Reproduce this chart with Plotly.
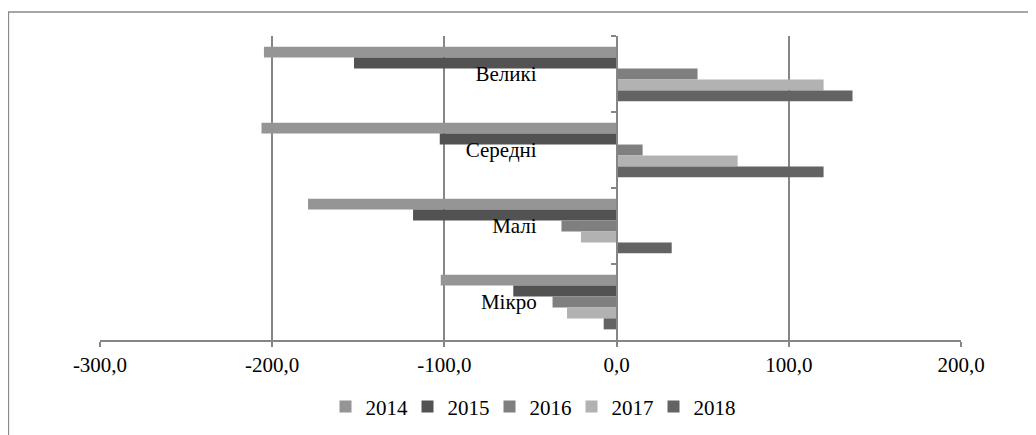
import plotly.graph_objects as go

# categories top to bottom
categories = ["Великі", "Середні", "Малі", "Мікро"]
years = ["2014", "2015", "2016", "2017", "2018"]

v2014 = [-204.8, -206.2, -179.2, -102.1]
v2015 = [-152.5, -102.7, -118.2, -60.0]
v2016 = [47.0, 15.1, -32.0, -37.2]
v2017 = [120.2, 70.3, -20.7, -28.8]
v2018 = [137.0, 120.2, 32.0, -7.5]

series = [v2014, v2015, v2016, v2017, v2018]
colors = ["#959595", "#525252", "#7f7f7f", "#b2b2b2", "#636363"]

x_ticks = [-300, -200, -100, 0, 100, 200]
x_ticktext = ["-300,0", "-200,0", "-100,0", "0,0", "100,0", "200,0"]

FONT = "Liberation Serif"
GRID = "#868686"

# plot area in px (page has an 8px body offset)
L, T, W, H = 92, 28, 861, 304

fig = go.Figure()
for name, vals, col in zip(years, series, colors):
    fig.add_trace(go.Bar(
        y=categories, x=vals, name=name, orientation="h",
        marker=dict(color=col, line=dict(width=0)),
    ))

# left/top border of the chart area
fig.add_shape(type="rect", xref="paper", yref="paper",
              x0=(0.5 - L) / W, x1=(1050 - L) / W,
              y0=(T + H - 460) / H, y1=(T + H - 4) / H,
              line=dict(color="#8a8a8a", width=1.3), fillcolor="rgba(0,0,0,0)",
              layer="below")

fig.update_layout(
    width=1036, height=435,
    margin=dict(l=L, r=1036 - L - W, t=T, b=435 - T - H, autoexpand=False),
    paper_bgcolor="white", plot_bgcolor="white",
    barmode="group", bargap=0.28, bargroupgap=0,
    font=dict(family=FONT, size=21, color="black"),
    showlegend=True,
    legend=dict(orientation="h", x=0.5, xanchor="center", y=-0.22, yanchor="middle",
                font=dict(family=FONT, size=21), traceorder="normal",
                itemwidth=30, entrywidth=37, entrywidthmode="pixels"),
    xaxis=dict(
        range=[-300, 200], tickvals=x_ticks, ticktext=x_ticktext,
        showgrid=True, gridcolor=GRID, gridwidth=1.5,
        zeroline=False, showline=True, linecolor=GRID, linewidth=1.5,
        ticks="outside", ticklen=5, tickcolor=GRID, tickwidth=1.5,
        tickfont=dict(family=FONT, size=21),
    ),
    yaxis=dict(
        autorange="reversed", type="category",
        anchor="free", position=0.6,
        showgrid=False, zeroline=False,
        showline=True, linecolor=GRID, linewidth=1.5,
        ticks="outside", ticklen=5, tickcolor=GRID, tickwidth=1.5,
        tickson="boundaries", ticklabelstandoff=75,
        tickfont=dict(family=FONT, size=21),
    ),
)

fig.write_html("out.html")
